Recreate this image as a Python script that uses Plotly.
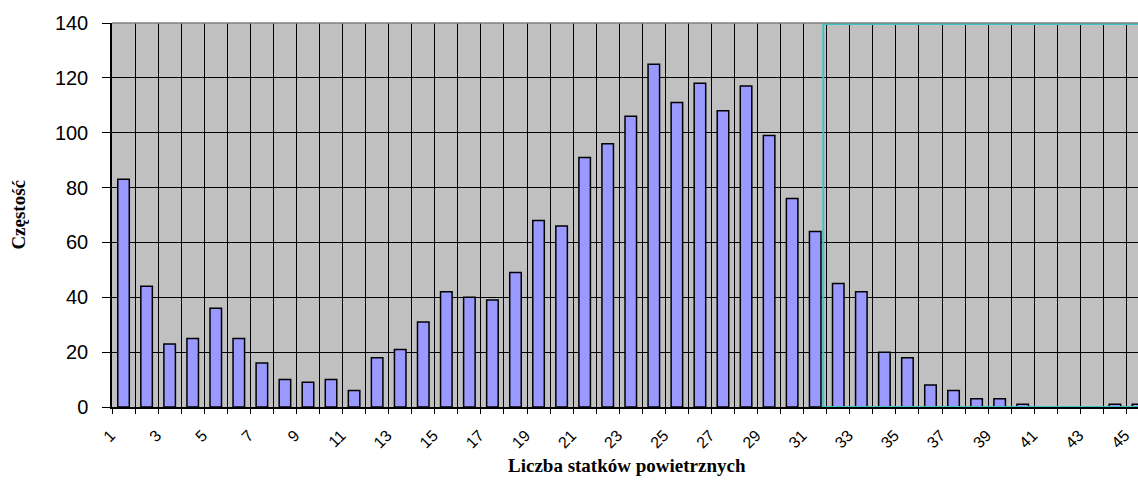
import plotly.graph_objects as go

# Histogram: number of aircraft vs. frequency
aircraft_count = list(range(1, 46))
frequency = [83, 44, 23, 25, 36, 25, 16, 10, 9, 10,
             6, 18, 21, 31, 42, 40, 39, 49, 68, 66,
             91, 96, 106, 125, 111, 118, 108, 117, 99, 76,
             64, 45, 42, 20, 18, 8, 6, 3, 3, 1,
             0, 0, 0, 1, 1]
label_ticks = list(range(1, 46, 2))
y_ticks = list(range(0, 141, 20))
highlight_from = 31.35  # start of the outlined region on the category axis

fig = go.Figure()
fig.add_trace(go.Bar(
    x=aircraft_count,
    y=frequency,
    marker=dict(color="#9999FF", line=dict(color="black", width=1.5)),
    width=0.5,
))

# Outlined region covering the upper tail of the distribution
fig.add_shape(type="rect", xref="x", yref="y",
              x0=highlight_from, x1=47, y0=0, y1=139.6,
              line=dict(color="#3FC4C4", width=2), layer="above")
# Thin grey top border of the plot area
fig.add_shape(type="line", xref="paper", yref="paper",
              x0=0, x1=1, y0=1, y1=1,
              line=dict(color="#808080", width=1.5), layer="above")

fig.add_annotation(text="<b>Częstość</b>", xref="paper", yref="paper",
                   x=-0.092, y=0.5, textangle=-90, showarrow=False,
                   xanchor="center", yanchor="middle",
                   font=dict(family="Liberation Serif", size=19, color="black"))
fig.add_annotation(text="<b>Liczba statków powietrznych</b>", xref="paper", yref="paper",
                   x=0.502, y=-0.153, showarrow=False,
                   xanchor="center", yanchor="middle",
                   font=dict(family="Liberation Serif", size=19, color="black"))

fig.update_layout(
    width=1138, height=481,
    margin=dict(l=112, r=0, t=23, b=74),
    paper_bgcolor="white",
    plot_bgcolor="#C0C0C0",
    showlegend=False,
    bargap=0.5,
)
fig.update_xaxes(
    range=[0.5, 45.0],
    tickmode="array", tickvals=label_ticks, ticktext=[str(v) for v in label_ticks],
    tickangle=-45, ticks="outside", ticklen=5, tickcolor="rgba(0,0,0,0)",
    ticklabelshift=-13, ticklabelstandoff=6,
    showgrid=False, zeroline=False,
    showline=True, linecolor="black", linewidth=1.5,
    tickfont=dict(family="Liberation Sans", size=16, color="black"),
    minor=dict(tick0=0.5, dtick=1, showgrid=True, gridcolor="black", gridwidth=1,
               ticks="outside", ticklen=5, tickcolor="black"),
)
fig.update_yaxes(
    range=[0, 140],
    tickmode="array", tickvals=y_ticks,
    ticks="outside", ticklen=8, tickcolor="black",
    ticklabelstandoff=10,
    showgrid=True, gridcolor="black", gridwidth=1,
    zeroline=False,
    showline=True, linecolor="black", linewidth=1.5,
    tickfont=dict(family="Liberation Sans", size=20, color="black"),
)

fig.write_html("out.html")
